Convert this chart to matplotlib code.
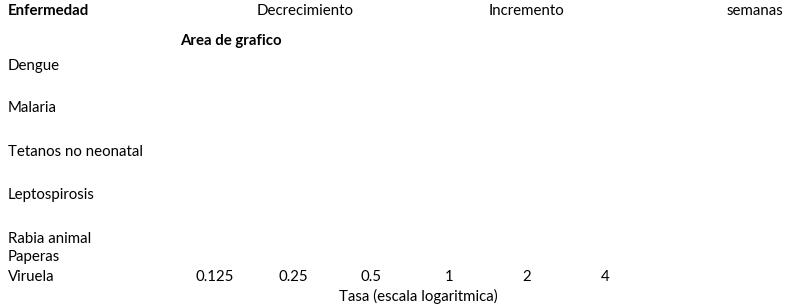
import numpy as np
import matplotlib
matplotlib.use('Agg')
from matplotlib import pyplot as plt

# chart content
diseases = ['Dengue', 'Malaria', 'Tetanos no neonatal', 'Leptospirosis',
            'Rabia animal', 'Paperas', 'Viruela']
tick_values = [0.125, 0.25, 0.5, 1, 2, 4]
tick_labels = ['0.125', '0.25', '0.5', '1', '2', '4']
header_labels = ['Decrecimiento', 'Incremento', 'semanas']

# layout (pixels from top-left)
W, H = 788, 306
row_y = [66, 108, 152, 195, 239, 257, 277]
header_x = [305, 527, 755]
FS = 10.8


def fx(px):
    return px / W


def fy(py):
    return 1 - py / H


plt.rcParams['font.family'] = ['Lato', 'DejaVu Sans']
plt.rcParams['font.size'] = FS

fig = plt.figure(figsize=(W / 100, H / 100), dpi=100)
fig.patch.set_facecolor('white')

# empty plot area with log2 x axis
ax_left, ax_right, ax_top, ax_bottom = 180, 700, 48, 269
ax = fig.add_axes([fx(ax_left), fy(ax_bottom), fx(ax_right - ax_left),
                   (ax_bottom - ax_top) / H])
ax.set_xscale('log', base=2)
px_per_doubling = 78.0
lo = -3 - (215 - ax_left) / px_per_doubling
hi = -3 + (ax_right - 215) / px_per_doubling
ax.set_xlim(2 ** lo, 2 ** hi)
ax.set_ylim(0, 1)
ax.set_xticks(tick_values)
ax.set_xticklabels(tick_labels)
ax.minorticks_off()
ax.set_yticks([])
ax.tick_params(axis='x', length=0, pad=1, labelsize=FS, colors='black')
for s in ax.spines.values():
    s.set_visible(False)
ax.set_xlabel('Tasa (escala logaritmica)', fontsize=FS)
ax.xaxis.set_label_coords((418 - ax_left) / (ax_right - ax_left),
                          (ax_bottom - 289) / (ax_bottom - ax_top))
ax.set_title('Area de grafico', fontsize=FS, fontweight='bold',
             loc='left', pad=2)

# header row
fig.text(fx(8), fy(11), 'Enfermedad', fontweight='bold', va='center', ha='left')
for lab, x in zip(header_labels, header_x):
    fig.text(fx(x), fy(11), lab, va='center', ha='center')

# disease rows
for name, y in zip(diseases, row_y):
    fig.text(fx(8), fy(y), name, va='center', ha='left')

plt.savefig('out.png', dpi=100, facecolor='white')
